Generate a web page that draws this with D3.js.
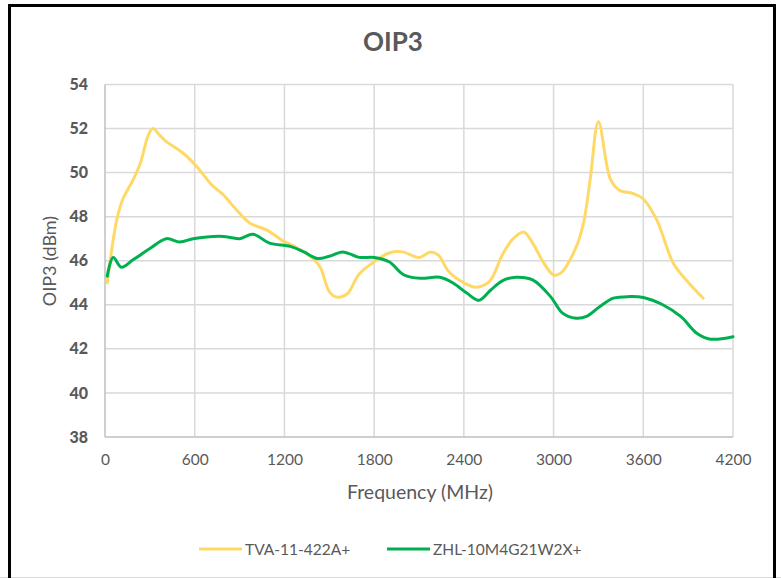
<!DOCTYPE html>
<html>
<head>
<meta charset="utf-8">
<script src="https://cdn.jsdelivr.net/npm/d3@7"></script>
<style>
  html, body { margin: 0; padding: 0; background: #fff; }
  svg { display: block; }
  text { font-family: Lato, "Open Sans", sans-serif; }
</style>
</head>
<body>
<svg id="chart" width="781" height="578"></svg>
<script>
// ---- data ----
const chartTitle = "OIP3";
const xAxisTitle = "Frequency (MHz)";
const yAxisTitle = "OIP3 (dBm)";
const xTicks = [0, 600, 1200, 1800, 2400, 3000, 3600, 4200];
const yTicks = [38, 40, 42, 44, 46, 48, 50, 52, 54];
const seriesNames = ["TVA-11-422A+", "ZHL-10M4G21W2X+"];

const tvaFreq = [15, 80, 120, 190, 235, 290, 320, 365, 410, 520, 610, 720, 790, 880, 970, 1080, 1190, 1280, 1390, 1440, 1500, 1550, 1620, 1700, 1810, 1900, 1990, 2100, 2180, 2230, 2300, 2400, 2480, 2570, 2660, 2730, 2800, 2860, 2930, 3000, 3050, 3150, 3200, 3245, 3300, 3380, 3440, 3530, 3600, 3690, 3800, 3890, 4000];
const tvaVal  = [45.0, 47.9, 48.8, 49.7, 50.4, 51.7, 52.0, 51.7, 51.4, 50.9, 50.3, 49.4, 49.0, 48.3, 47.7, 47.4, 46.9, 46.6, 46.1, 45.7, 44.6, 44.35, 44.5, 45.4, 46.0, 46.35, 46.4, 46.15, 46.4, 46.25, 45.5, 45.0, 44.8, 45.05, 46.3, 47.0, 47.3, 46.8, 45.95, 45.35, 45.45, 46.6, 47.7, 49.7, 52.3, 49.7, 49.2, 49.05, 48.8, 47.85, 45.9, 45.1, 44.3];

const zhlFreq = [15, 55, 110, 190, 300, 410, 500, 590, 680, 790, 900, 990, 1100, 1240, 1330, 1420, 1500, 1590, 1700, 1800, 1900, 2000, 2110, 2240, 2330, 2420, 2500, 2580, 2660, 2750, 2860, 2980, 3060, 3150, 3220, 3310, 3400, 3510, 3600, 3730, 3850, 3960, 4050, 4200];
const zhlVal  = [45.3, 46.15, 45.7, 46.05, 46.55, 47.0, 46.85, 47.0, 47.08, 47.1, 47.0, 47.2, 46.8, 46.65, 46.4, 46.1, 46.2, 46.4, 46.15, 46.15, 45.95, 45.35, 45.2, 45.25, 44.98, 44.53, 44.2, 44.67, 45.1, 45.25, 45.13, 44.37, 43.62, 43.39, 43.47, 43.92, 44.3, 44.37, 44.33, 44.0, 43.47, 42.7, 42.44, 42.55];

const colors = ["#FFD966", "#00B050"];

// ---- drawing ----
const svg = d3.select("#chart");
const W = 781, H = 578;
const plot = { left: 105, right: 733, top: 84.4, bottom: 437 };

svg.append("rect").attr("width", W).attr("height", H).attr("fill", "#fff");

// outer frame
svg.append("line").attr("x1", 0).attr("x2", W).attr("y1", 577.5).attr("y2", 577.5)
  .attr("stroke", "#D9D9D9").attr("stroke-width", 1);
svg.append("path")
  .attr("d", `M9.5,${H} V5.5 H774.5 V${H}`)
  .attr("fill", "none").attr("stroke", "#000").attr("stroke-width", 3);

const x = d3.scaleLinear().domain([0, 4200]).range([plot.left, plot.right]);
const y = d3.scaleLinear().domain([38, 54]).range([plot.bottom, plot.top]);

// gridlines
const grid = svg.append("g");
grid.selectAll("line.h").data(yTicks.filter(d => d !== 38)).join("line")
  .attr("x1", plot.left).attr("x2", plot.right)
  .attr("y1", d => y(d)).attr("y2", d => y(d))
  .attr("stroke", "#D9D9D9").attr("stroke-width", 1.5);
grid.selectAll("line.v").data(xTicks.filter(d => d !== 0)).join("line")
  .attr("y1", plot.top).attr("y2", plot.bottom)
  .attr("x1", d => x(d)).attr("x2", d => x(d))
  .attr("stroke", "#D9D9D9").attr("stroke-width", 1.5);

// axes lines
svg.append("line").attr("x1", plot.left).attr("x2", plot.left)
  .attr("y1", plot.top).attr("y2", plot.bottom).attr("stroke", "#BFBFBF").attr("stroke-width", 1.5);
svg.append("line").attr("x1", plot.left).attr("x2", plot.right)
  .attr("y1", plot.bottom).attr("y2", plot.bottom).attr("stroke", "#BFBFBF").attr("stroke-width", 1.5);

// axes labels via d3 axes
const xAxis = d3.axisBottom(x).tickValues(xTicks).tickSize(0).tickPadding(17).tickFormat(d3.format("d"));
const gx = svg.append("g").attr("transform", `translate(0,${plot.bottom})`).call(xAxis);
gx.select(".domain").remove();
gx.selectAll("text").attr("fill", "#595959").attr("font-size", 15.5)
  .attr("font-family", "Lato, sans-serif");

const yAxis = d3.axisLeft(y).tickValues(yTicks).tickSize(0).tickPadding(17).tickFormat(d3.format("d"));
const gy = svg.append("g").attr("transform", `translate(${plot.left},0)`).call(yAxis);
gy.select(".domain").remove();
gy.selectAll("text").attr("fill", "#595959").attr("font-size", 16).attr("font-weight", "900")
  .attr("font-family", "Lato, sans-serif");

// lines
const line = d3.line().x(d => x(d[0])).y(d => y(d[1])).curve(d3.curveCatmullRom.alpha(0.5));
const series = [
  d3.zip(tvaFreq, tvaVal),
  d3.zip(zhlFreq, zhlVal)
];
svg.selectAll("path.series").data(series).join("path")
  .attr("class", "series")
  .attr("d", line)
  .attr("fill", "none")
  .attr("stroke", (d, i) => colors[i])
  .attr("stroke-width", 3)
  .attr("stroke-linejoin", "round")
  .attr("stroke-linecap", "round");

// titles
svg.append("text").attr("x", 393).attr("y", 51).attr("text-anchor", "middle")
  .attr("font-size", 26).attr("font-weight", "bold").attr("fill", "#595959").text(chartTitle);
svg.append("text").attr("x", 420).attr("y", 499).attr("text-anchor", "middle")
  .attr("font-size", 19.5).attr("fill", "#595959").text(xAxisTitle);
svg.append("text").attr("transform", "translate(56,261) rotate(-90)").attr("text-anchor", "middle")
  .attr("font-size", 18).attr("fill", "#595959").text(yAxisTitle);

// legend
const legendX = [199, 387];
const lg = svg.selectAll("g.legend").data(seriesNames).join("g")
  .attr("class", "legend")
  .attr("transform", (d, i) => `translate(${legendX[i]},549)`);
lg.append("line").attr("x1", 0).attr("x2", 43).attr("y1", 0).attr("y2", 0)
  .attr("stroke", (d, i) => colors[i]).attr("stroke-width", 3);
lg.append("text").attr("x", 46).attr("y", 5.5).attr("font-size", 15.5).attr("fill", "#595959").text(d => d);
</script>
</body>
</html>
